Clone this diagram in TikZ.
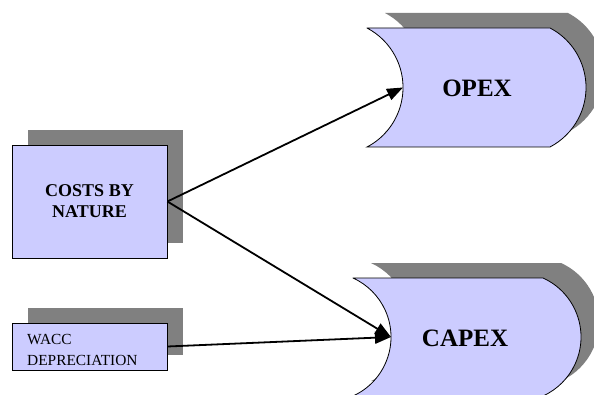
\documentclass[tikz,border=0pt]{standalone}
\usepackage{fontspec}
\setmainfont{Liberation Serif}
\usetikzlibrary{arrows.meta}
\definecolor{boxfill}{RGB}{204,204,255}
\definecolor{shadowgray}{RGB}{128,128,128}
\newcommand\mydrum[6]{%
  \pgfmathsetmacro\hh{(#3-#4)/2}%
  \pgfmathsetmacro\rr{(\hh*\hh+#5*#5)/(2*#5)}%
  \pgfmathsetmacro\th{asin(\hh/\rr)}%
  \path[#6] (#1,#3) -- (#2,#3) arc[start angle=\th, end angle=-\th, radius=\rr pt]
    -- (#1,#4) arc[start angle=-\th, end angle=\th, radius=\rr pt] -- cycle;
}
\tikzset{
  boxnode/.style={draw=black, line width=0.8pt, fill=boxfill, inner sep=0pt},
  shadownode/.style={fill=shadowgray, draw=none, inner sep=0pt},
  drumshape/.style={draw=black, line width=0.8pt, fill=boxfill},
  drumshadow/.style={fill=shadowgray},
  conn/.style={line width=1.8pt, -{Triangle[length=16pt, width=12pt]}, shorten >=0pt},
  bigtext/.style={font=\fontsize{25}{30}\selectfont\bfseries, inner sep=0pt},
}
\begin{document}
\begin{tikzpicture}[x=1pt, y=1pt]
\useasboundingbox (0,0) rectangle (594,394);
\clip (0,0) rectangle (594,394);
% shadows
\node[shadownode, minimum width=155pt, minimum height=113pt] (costsshadow) at (105.5,207.5) {};
\node[shadownode, minimum width=155pt, minimum height=47pt] (waccshadow) at (105.5,62.5) {};
\mydrum{385}{568}{381}{262}{36}{drumshadow}
\mydrum{371}{561}{131}{13}{38}{drumshadow}
% main shapes
\node[boxnode, minimum width=155pt, minimum height=113pt, align=center,
      font=\fontsize{18}{21}\selectfont\bfseries] (costs) at (89.5,192.5) {COSTS BY\\NATURE};
\node[boxnode, minimum width=155pt, minimum height=47pt] (wacc) at (89.5,47.5) {};
\node[anchor=west, align=left, inner sep=0pt, font=\fontsize{15.4}{21}\selectfont] (wacctext) at (27,44.5) {WACC\\DEPRECIATION};
\mydrum{367}{550}{366}{247}{36}{drumshape}
\mydrum{353}{543}{116}{-2}{38}{drumshape}
\node[bigtext, anchor=base] (opex) at (477,297) {OPEX};
\node[bigtext, anchor=base] (capex) at (465,48) {CAPEX};
\coordinate (opexin) at (403,306.5);
\coordinate (capexin) at (391,57);
% connectors
\draw[conn] (costs.east) -- (opexin);
\draw[conn] (costs.east) -- (capexin);
\draw[conn] (wacc.east) -- (capexin);
\end{tikzpicture}
\end{document}
